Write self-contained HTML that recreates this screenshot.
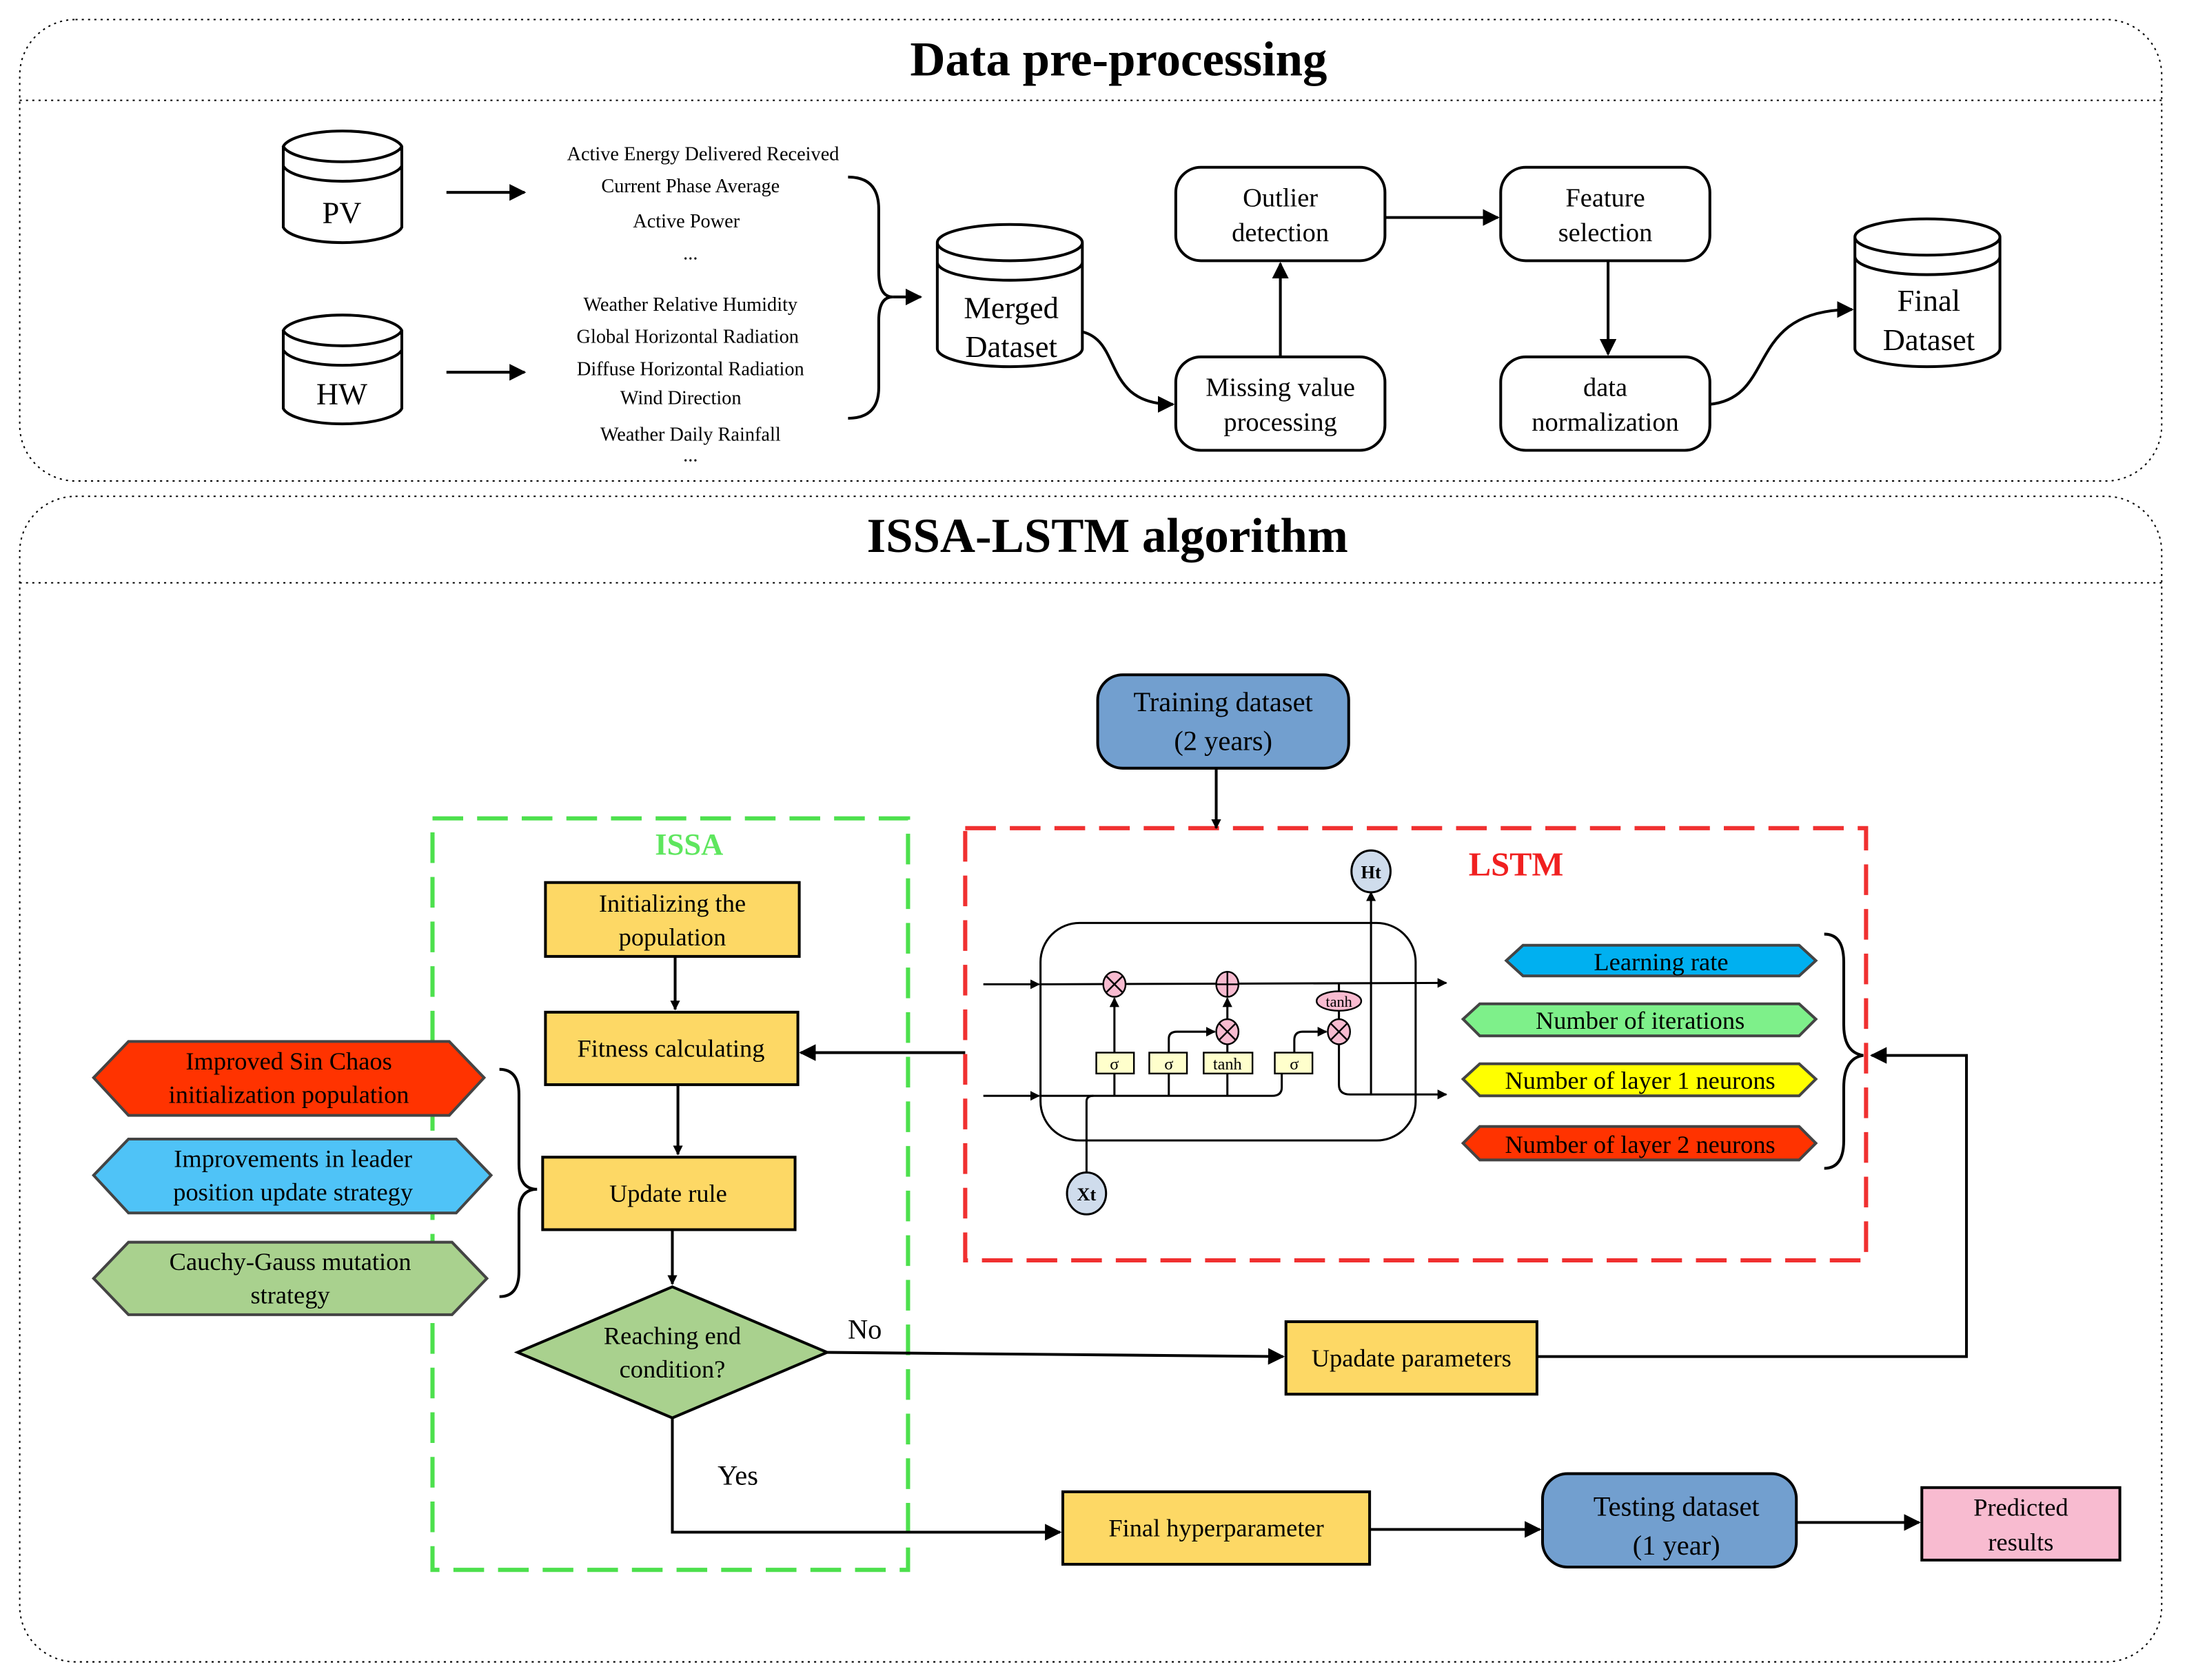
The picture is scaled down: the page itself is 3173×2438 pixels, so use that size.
<!DOCTYPE html>
<html><head><meta charset="utf-8"><style>html,body{margin:0;padding:0;background:#fff}svg{display:block}</style></head><body>
<svg width="3173" height="2438" viewBox="0 0 1568 1205" xmlns="http://www.w3.org/2000/svg" font-family="'Liberation Serif',serif">
<defs>
<marker id="a" viewBox="0 0 10 10" refX="9" refY="5" markerWidth="7" markerHeight="7" orient="auto" markerUnits="userSpaceOnUse"><path d="M0,0L10,5L0,10z" fill="#000"/></marker>
<marker id="b" viewBox="0 0 10 10" refX="9" refY="5" markerWidth="12" markerHeight="12" orient="auto" markerUnits="userSpaceOnUse"><path d="M0,0L10,5L0,10z" fill="#000"/></marker>
</defs>
<g fill="none" stroke="#000" stroke-width="1" stroke-dasharray="1.5,3">
<rect x="14" y="14" width="1536" height="331" rx="40"/>
<line x1="14" y1="72" x2="1550" y2="72"/>
<rect x="14" y="356" width="1536" height="836" rx="40"/>
<line x1="14" y1="418" x2="1550" y2="418"/>
</g>
<text x="802" y="54" font-size="35" font-weight="bold" text-anchor="middle">Data pre-processing</text>
<text x="794" y="396" font-size="35" font-weight="bold" text-anchor="middle">ISSA-LSTM algorithm</text>

<g fill="#fff" stroke="#000" stroke-width="2">
<path d="M203,105 V163 A43,13 0 0 0 288,163 V105 A43,13 0 0 0 203,105 A43,13 0 0 0 288,105 M203,119 A43,13 0 0 0 288,119"/>
<path d="M203,237 V293 A43,13 0 0 0 288,293 V237 A43,13 0 0 0 203,237 A43,13 0 0 0 288,237 M203,251 A43,13 0 0 0 288,251"/>
<path d="M672,174 V250 A52,13 0 0 0 776,250 V174 A52,13 0 0 0 672,174 A52,13 0 0 0 776,174 M672,188 A52,13 0 0 0 776,188"/>
<path d="M1330,170 V250 A52,13 0 0 0 1434,250 V170 A52,13 0 0 0 1330,170 A52,13 0 0 0 1434,170 M1330,184 A52,13 0 0 0 1434,184"/>
<rect x="843" y="120" width="150" height="67" rx="18"/>
<rect x="1076" y="120" width="150" height="67" rx="18"/>
<rect x="843" y="256" width="150" height="67" rx="18"/>
<rect x="1076" y="256" width="150" height="67" rx="18"/>
</g>
<g font-size="22" text-anchor="middle">
<text x="245" y="160">PV</text><text x="245" y="290">HW</text>
<text x="725" y="228">Merged</text><text x="725" y="256">Dataset</text>
<text x="1383" y="223">Final</text><text x="1383" y="251">Dataset</text>
<text font-size="19" x="918" y="148">Outlier</text><text font-size="19" x="918" y="173">detection</text>
<text font-size="19" x="1151" y="148">Feature</text><text font-size="19" x="1151" y="173">selection</text>
<text font-size="19" x="918" y="284">Missing value</text><text font-size="19" x="918" y="309">processing</text>
<text font-size="19" x="1151" y="284">data</text><text font-size="19" x="1151" y="309">normalization</text>
</g>
<g font-size="14" text-anchor="middle">
<text x="504" y="115">Active Energy Delivered Received</text>
<text x="495" y="138">Current Phase Average</text>
<text x="492" y="163">Active Power</text>
<text x="495" y="186">...</text>
<text x="495" y="223">Weather Relative Humidity</text>
<text x="493" y="246">Global Horizontal Radiation</text>
<text x="495" y="269">Diffuse Horizontal Radiation</text>
<text x="488" y="290">Wind Direction</text>
<text x="495" y="316">Weather Daily Rainfall</text>
<text x="495" y="331">...</text>
</g>
<g fill="none" stroke="#000" stroke-width="2">
<line x1="320" y1="138" x2="376" y2="138" marker-end="url(#b)"/>
<line x1="320" y1="267" x2="376" y2="267" marker-end="url(#b)"/>
<path d="M608,127 Q630,127 630,150 V195 Q630,213 640,213 Q630,213 630,230 V278 Q630,300 608,300"/>
<line x1="640" y1="213" x2="660" y2="213" marker-end="url(#b)"/>
<path d="M776,238 C805,245 790,290 841,290" marker-end="url(#b)"/>
<line x1="918" y1="256" x2="918" y2="189" marker-end="url(#b)"/>
<line x1="993" y1="156" x2="1074" y2="156" marker-end="url(#b)"/>
<line x1="1153" y1="187" x2="1153" y2="254" marker-end="url(#b)"/>
<path d="M1226,290 C1275,285 1250,222 1328,222" marker-end="url(#b)"/>
</g>

<!-- bottom -->
<rect x="310" y="587" width="341" height="539" fill="none" stroke="#4de04d" stroke-width="3" stroke-dasharray="22,10"/>
<rect x="692" y="594" width="646" height="310" fill="none" stroke="#f03030" stroke-width="3" stroke-dasharray="22,10"/>
<text x="494" y="613" font-size="22" font-weight="bold" fill="#5ee65e" text-anchor="middle">ISSA</text>
<text x="1087" y="628" font-size="24" font-weight="bold" fill="#f02020" text-anchor="middle">LSTM</text>

<g stroke="#000" stroke-width="2">
<rect x="787" y="484" width="180" height="67" rx="18" fill="#729fcf"/>
<rect x="1106" y="1057" width="182" height="67" rx="18" fill="#729fcf"/>
<rect x="1378" y="1067" width="142" height="52" fill="#f8bbd0"/>
<rect x="391" y="633" width="182" height="53" fill="#fdd865"/>
<rect x="391" y="726" width="181" height="52" fill="#fdd865"/>
<rect x="389" y="830" width="181" height="52" fill="#fdd865"/>
<rect x="922" y="948" width="180" height="52" fill="#fdd865"/>
<rect x="762" y="1070" width="220" height="52" fill="#fdd865"/>
<path d="M482,923 L593,970 L482,1017 L371,970Z" fill="#a9d18e"/>
</g>
<g stroke="#444" stroke-width="2">
<path d="M92,747 H322 L347,773 L322,800 H92 L67,773Z" fill="#ff3300"/>
<path d="M92,817 H327 L352,843 L327,870 H92 L67,843Z" fill="#4fc3f7"/>
<path d="M92,891 H324 L349,917 L324,943 H92 L67,917Z" fill="#a9d18e"/>
<path d="M1092,678 H1290 L1302,689 L1290,700 H1092 L1080,689Z" fill="#00b0f0"/>
<path d="M1061,720 H1290 L1302,731 L1290,743 H1061 L1049,731Z" fill="#7ef08a"/>
<path d="M1061,763 H1290 L1302,774 L1290,786 H1061 L1049,774Z" fill="#ffff00"/>
<path d="M1061,808 H1290 L1302,820 L1290,832 H1061 L1049,820Z" fill="#ff3300"/>
</g>
<g font-size="20" text-anchor="middle">
<text x="877" y="510">Training dataset</text><text x="877" y="538">(2 years)</text>
<text x="1202" y="1087">Testing dataset</text><text x="1202" y="1115">(1 year)</text>
<text font-size="18" x="1449" y="1087">Predicted</text><text font-size="18" x="1449" y="1112">results</text>
<text font-size="18" x="482" y="654">Initializing the</text><text font-size="18" x="482" y="678">population</text>
<text font-size="18" x="481" y="758">Fitness calculating</text>
<text font-size="18" x="479" y="862">Update rule</text>
<text font-size="18" x="1012" y="980">Upadate parameters</text>
<text font-size="18" x="872" y="1102">Final hyperparameter</text>
<text font-size="18" x="482" y="964">Reaching end</text><text font-size="18" x="482" y="988">condition?</text>
<text font-size="18" x="207" y="767">Improved Sin Chaos</text><text font-size="18" x="207" y="791">initialization population</text>
<text font-size="18" x="210" y="837">Improvements in leader</text><text font-size="18" x="210" y="861">position update strategy</text>
<text font-size="18" x="208" y="911">Cauchy-Gauss  mutation</text><text font-size="18" x="208" y="935">strategy</text>
<text font-size="18" x="1191" y="696">Learning rate</text>
<text font-size="18" x="1176" y="738">Number of iterations</text>
<text font-size="18" x="1176" y="781">Number of layer 1 neurons</text>
<text font-size="18" x="1176" y="827">Number of layer 2 neurons</text>
<text x="620" y="960">No</text><text x="529" y="1065">Yes</text>
</g>
<g fill="none" stroke="#000" stroke-width="2">
<line x1="872" y1="551" x2="872" y2="594" marker-end="url(#a)"/>
<line x1="484" y1="686" x2="484" y2="724" marker-end="url(#a)"/>
<line x1="486" y1="778" x2="486" y2="828" marker-end="url(#a)"/>
<line x1="482" y1="882" x2="482" y2="921" marker-end="url(#a)"/>
<line x1="692" y1="755" x2="574" y2="755" marker-end="url(#b)"/>
<path d="M593,970 L920,973" marker-end="url(#b)"/>
<path d="M482,1017 V1099 H760" marker-end="url(#b)"/>
<line x1="982" y1="1097" x2="1104" y2="1097" marker-end="url(#b)"/>
<line x1="1288" y1="1092" x2="1376" y2="1092" marker-end="url(#b)"/>
<path d="M1102,973 H1410 V757 H1342" marker-end="url(#b)"/>
<path d="M358,767 Q372,767 372,785 V835 Q372,853 385,853 Q372,853 372,870 V912 Q372,930 358,930"/>
<path d="M1308,670 Q1322,670 1322,690 V735 Q1322,755 1336,757 Q1322,759 1322,780 V818 Q1322,838 1308,838"/>
</g>
<!-- LSTM cell -->
<g fill="none" stroke="#000" stroke-width="1.5">
<rect x="746" y="662" width="269" height="156" rx="28"/>
<line x1="705" y1="706" x2="745" y2="706" marker-end="url(#a)"/>
<line x1="705" y1="786" x2="745" y2="786" marker-end="url(#a)"/>
<line x1="746" y1="706" x2="1037" y2="705" marker-end="url(#a)"/>
<path d="M746,786 H912 Q919,786 919,780 V770"/>
<path d="M960,747 V778 Q960,785 968,785 H1037" marker-end="url(#a)"/>
<line x1="983" y1="785" x2="983" y2="640" marker-end="url(#a)"/>
<path d="M779,843 V790 Q779,786 784,786"/>
<line x1="799" y1="755" x2="799" y2="716" marker-end="url(#a)"/>
<line x1="799" y1="770" x2="799" y2="786"/>
<line x1="838" y1="770" x2="838" y2="786"/>
<path d="M838,755 V745 Q838,740 844,740 H871" marker-end="url(#a)"/>
<line x1="880" y1="755" x2="880" y2="748"/>
<line x1="880" y1="770" x2="880" y2="786"/>
<line x1="880" y1="732" x2="880" y2="716" marker-end="url(#a)"/>
<path d="M928,755 V746 Q928,740 934,740 H951" marker-end="url(#a)"/>
<line x1="960" y1="706" x2="960" y2="712"/>
<line x1="960" y1="724" x2="960" y2="732"/>
</g>
<g stroke="#000" stroke-width="1.2" fill="#f8bbd0">
<ellipse cx="799" cy="706" rx="8" ry="9"/><path d="M793,700L805,712M805,700L793,712" fill="none"/>
<ellipse cx="880" cy="706" rx="8" ry="9"/><path d="M880,697V715M872,706H888" fill="none"/>
<ellipse cx="880" cy="740" rx="8" ry="9"/><path d="M874,734L886,746M886,734L874,746" fill="none"/>
<ellipse cx="960" cy="740" rx="8" ry="9"/><path d="M954,734L966,746M966,734L954,746" fill="none"/>
<ellipse cx="960" cy="718" rx="16" ry="7"/>
</g>
<g stroke="#000" stroke-width="1.2" fill="#ffffcc">
<rect x="786" y="755" width="27" height="15"/><rect x="824" y="755" width="27" height="15"/>
<rect x="863" y="755" width="35" height="15"/><rect x="914" y="755" width="27" height="15"/>
</g>
<g stroke="#000" stroke-width="1.5" fill="#cfdcec">
<ellipse cx="983" cy="625" rx="14" ry="15"/><ellipse cx="779" cy="856" rx="14" ry="15"/>
</g>
<g font-size="12" text-anchor="middle">
<text x="799" y="767">σ</text><text x="838" y="767">σ</text><text x="880" y="767">tanh</text><text x="928" y="767">σ</text>
<text x="960" y="722" font-size="11">tanh</text>
<text x="983" y="630" font-weight="bold" font-size="13">Ht</text>
<text x="779" y="861" font-weight="bold" font-size="13">Xt</text>
</g>
</svg>
</body></html>
